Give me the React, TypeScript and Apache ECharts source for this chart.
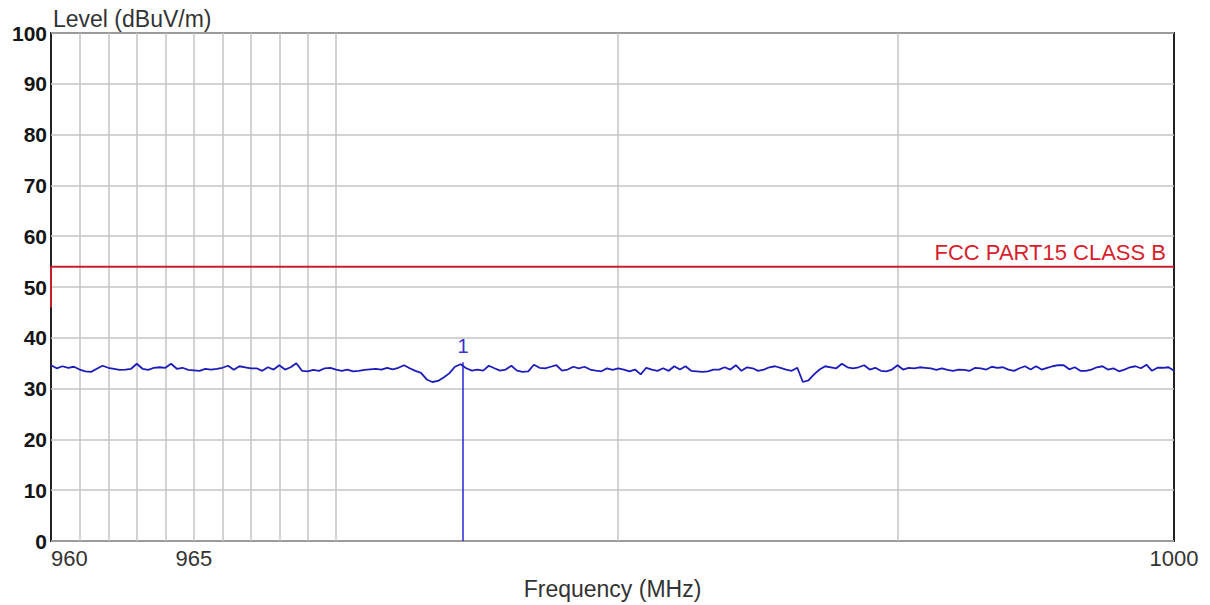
import React, { useEffect, useRef } from "react";
import * as echarts from "echarts";

// Sweep settings of the measured trace (MHz)
const FREQ_START = 960;
const FREQ_STEP = 0.2;

const LEVELS = [
  34.6, 34.0, 34.4, 34.1, 34.3,
  33.75, 33.4, 33.3, 33.9, 34.5,
  34.1, 33.9, 33.7, 33.75, 33.9,
  34.9, 33.9, 33.7, 34.1, 34.2,
  34.1, 34.9, 33.9, 34.1, 33.7,
  33.6, 33.5, 33.9, 33.75, 33.9,
  34.1, 34.5, 33.7, 34.4, 34.2,
  34.0, 34.0, 33.5, 34.2, 33.75,
  34.6, 33.75, 34.2, 35.0, 33.5,
  33.4, 33.7, 33.5, 34.0, 34.1,
  33.75, 33.5, 33.75, 33.4, 33.5,
  33.7, 33.8, 33.9, 33.75, 34.1,
  33.8, 34.1, 34.6, 34.0, 33.5,
  33.1, 31.8, 31.3, 31.5, 32.2,
  33.0, 34.3, 34.8, 34.0, 33.55,
  33.75, 33.55, 34.5, 34.0, 33.55,
  33.75, 34.5, 33.55, 33.3, 33.4,
  34.7, 34.1, 34.0, 34.3, 34.6,
  33.55, 33.75, 34.3, 34.0, 34.3,
  33.75, 33.55, 33.4, 34.0, 33.7,
  34.0, 33.75, 33.4, 33.75, 32.8,
  34.1, 33.75, 33.5, 34.0, 33.5,
  34.4, 33.75, 34.4, 33.5, 33.4,
  33.3, 33.4, 33.75, 33.75, 34.2,
  33.75, 34.6, 33.5, 34.2, 34.0,
  33.5, 33.75, 34.2, 34.4, 34.1,
  33.75, 33.5, 34.1, 31.3, 31.6,
  32.8, 33.75, 34.4, 34.2, 34.0,
  34.9, 34.2, 34.0, 34.2, 34.6,
  33.75, 34.1, 33.5, 33.4, 33.75,
  34.6, 33.75, 34.1, 34.0, 34.2,
  34.1, 34.0, 33.7, 34.0, 33.7,
  33.5, 33.75, 33.7, 33.5, 34.1,
  34.0, 33.75, 34.3, 34.1, 34.2,
  33.75, 33.5, 34.0, 34.4, 33.75,
  34.4, 33.75, 34.1, 34.4, 34.6,
  34.6, 33.8, 34.2, 33.5, 33.5,
  33.75, 34.2, 34.4, 33.75, 34.0,
  33.4, 33.75, 34.2, 34.4, 34.0,
  34.7, 33.5, 34.1, 34.1, 34.2,
  33.5,
];

// Limit line (frequency MHz, level dBuV/m)
const LIMIT_LINE = [
  [960, 46],
  [960, 54],
  [1000, 54],
];
const LIMIT_NAME = "FCC PART15 CLASS B";

// Marker
const MARKER_FREQ = 974.49;
const MARKER_LEVEL = 35.2;
const MARKER_LABEL = "1";

// Axes
const GRID_FREQS = [961, 962, 963, 964, 965, 966, 967, 968, 969, 970, 980, 990];
const X_LABELS = [960, 965, 1000];
const X_MIN = 960;
const X_MAX = 1000;
const Y_MIN = 0;
const Y_MAX = 100;
const Y_STEP = 10;

const FONT = "'Liberation Sans', Arial, sans-serif";

export default function App() {
  const ref = useRef<HTMLDivElement>(null);

  useEffect(() => {
    if (!ref.current) return;
    const chart = echarts.init(ref.current, undefined, { renderer: "svg" });

    const trace = LEVELS.map((v, i) => [
      Math.round((FREQ_START + i * FREQ_STEP) * 10) / 10,
      v,
    ]);

    chart.setOption({
      animation: false,
      backgroundColor: "#ffffff",
      textStyle: { fontFamily: FONT },
      title: {
        text: "Level (dBuV/m)",
        left: 48,
        top: 2,
        textStyle: {
          fontFamily: FONT,
          fontSize: 23,
          fontWeight: "normal",
          color: "#333333",
        },
      },
      grid: {
        left: 51,
        right: 36,
        top: 33,
        bottom: 62,
        show: true,
        borderColor: "#222222",
        borderWidth: 2,
        backgroundColor: "#ffffff",
      },
      xAxis: [
        {
          type: "log",
          logBase: 10,
          min: X_MIN,
          max: X_MAX,
          position: "bottom",
          axisLine: { show: false },
          axisTick: { show: false },
          axisLabel: { show: false },
          splitLine: { show: false },
        },
        {
          type: "value",
          min: Math.log10(X_MIN),
          max: Math.log10(X_MAX),
          position: "bottom",
          axisLine: { show: false },
          axisTick: { show: false },
          splitLine: { show: false },
          axisLabel: {
            customValues: X_LABELS.map((v) => Math.log10(v)),
            formatter: (v: number) => String(Math.round(Math.pow(10, v))),
            alignMinLabel: "left",
            fontSize: 22,
            color: "#333333",
            margin: 6,
            fontFamily: FONT,
          },
          name: "Frequency (MHz)",
          nameLocation: "middle",
          nameGap: 36,
          nameTextStyle: { fontSize: 23, color: "#333333", fontFamily: FONT },
        },
      ],
      yAxis: {
        type: "value",
        min: Y_MIN,
        max: Y_MAX,
        interval: Y_STEP,
        axisLine: { show: false },
        axisTick: { show: false },
        axisLabel: {
          fontSize: 21,
          fontWeight: "bold",
          color: "#151515",
          margin: 4,
          fontFamily: FONT,
        },
        splitLine: { lineStyle: { color: "#c4c4c4", width: 1.5 } },
      },
      series: [
        {
          name: "grid",
          type: "line",
          xAxisIndex: 0,
          data: [],
          silent: true,
          z: 1,
          markLine: {
            silent: true,
            z: 1,
            symbol: ["none", "none"],
            label: { show: false },
            lineStyle: { color: "#c4c4c4", width: 1.5, type: "solid" },
            data: GRID_FREQS.map((f) => ({ xAxis: f })),
          },
        },
        {
          name: "limit",
          type: "line",
          xAxisIndex: 0,
          data: LIMIT_LINE,
          showSymbol: false,
          silent: true,
          z: 3,
          lineStyle: { color: "#c81e2c", width: 2 },
          markPoint: {
            silent: true,
            symbol: "circle",
            symbolSize: 1,
            itemStyle: { color: "rgba(0,0,0,0)" },
            label: {
              show: true,
              formatter: LIMIT_NAME,
              position: "top",
              align: "right",
              distance: 3,
              offset: [-8, 0],
              color: "#d81e2c",
              fontSize: 22,
              fontFamily: FONT,
            },
            data: [{ coord: LIMIT_LINE[LIMIT_LINE.length - 1] }],
          },
        },
        {
          name: "trace",
          type: "line",
          xAxisIndex: 0,
          data: trace,
          showSymbol: false,
          silent: true,
          z: 4,
          lineStyle: { color: "#1c1cb8", width: 1.8 },
          markLine: {
            silent: true,
            symbol: ["none", "none"],
            lineStyle: { color: "#2828d0", width: 1.5, type: "solid" },
            label: {
              show: true,
              position: "end",
              formatter: MARKER_LABEL,
              color: "#3434c8",
              fontSize: 20,
              distance: 6,
              fontFamily: FONT,
            },
            data: [
              [
                { coord: [MARKER_FREQ, 0] },
                { coord: [MARKER_FREQ, MARKER_LEVEL] },
              ],
            ],
          },
        },
      ],
    });

    return () => chart.dispose();
  }, []);

  return (
    <div
      ref={ref}
      style={{
        position: "absolute",
        left: 0,
        top: 0,
        width: 1210,
        height: 605,
        background: "#ffffff",
      }}
    />
  );
}
